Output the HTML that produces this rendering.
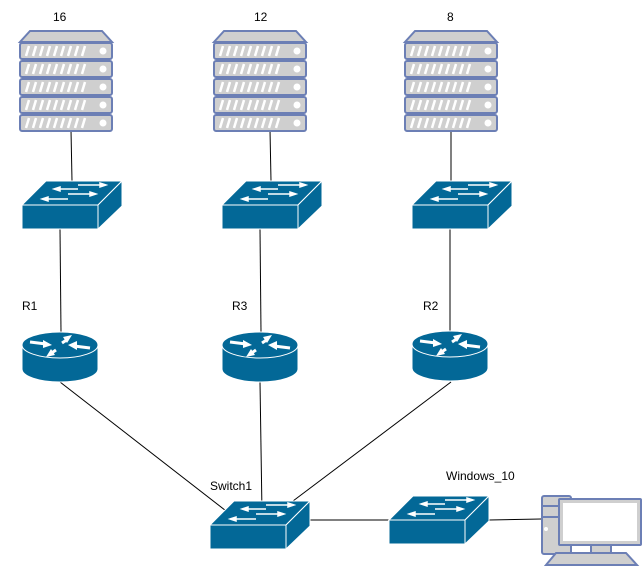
<!DOCTYPE html>
<html><head><meta charset="utf-8"><style>
html,body{margin:0;padding:0;background:#fff;}
svg{display:block;font-family:"Liberation Sans",sans-serif;font-size:12px;}
</style></head><body>
<svg width="643" height="567" viewBox="0 0 643 567" xmlns="http://www.w3.org/2000/svg">
<defs>
<g id="unit">
<rect x="0" y="0" width="92" height="16" rx="2" fill="#cfcfcf" stroke="#6c7fb5" stroke-width="2"/>
<g stroke="#fff" stroke-width="2.5">
<line x1="6" y1="13" x2="9" y2="3"/><line x1="13" y1="13" x2="16" y2="3"/><line x1="20" y1="13" x2="23" y2="3"/><line x1="27" y1="13" x2="30" y2="3"/><line x1="34" y1="13" x2="37" y2="3"/><line x1="41" y1="13" x2="44" y2="3"/><line x1="48" y1="13" x2="51" y2="3"/><line x1="55" y1="13" x2="58" y2="3"/><line x1="62" y1="13" x2="65" y2="3"/>
</g>
<circle cx="83" cy="8" r="3.5" fill="#fff"/>
</g>
<g id="server">
<path d="M10 1 L82 1 L92 12 L0 12 Z" fill="#cfcfcf" stroke="#6c7fb5" stroke-width="2"/>
<use href="#unit" y="13"/><use href="#unit" y="31"/><use href="#unit" y="49"/><use href="#unit" y="67"/><use href="#unit" y="85"/>
</g>
<g id="switch">
<path d="M0 24 L24 0 L100 0 L76 24 Z" fill="#036897" stroke="#fff" stroke-width="1"/>
<path d="M76 24 L100 0 L100 25 L76 48 Z" fill="#036897" stroke="#fff" stroke-width="1"/>
<rect x="0" y="24" width="76" height="24" fill="#036897" stroke="#fff" stroke-width="1"/>
<g stroke="#fff" stroke-width="1.5" fill="#fff">
<line x1="56" y1="4" x2="80" y2="4"/><path d="M84 4 L78 2 L78 6Z"/>
<line x1="36" y1="8" x2="56" y2="8"/><path d="M32 8 L38 6 L38 10Z"/>
<line x1="46" y1="13" x2="70" y2="13"/><path d="M74 13 L68 11 L68 15Z"/>
<line x1="24" y1="18" x2="46" y2="18"/><path d="M20 18 L26 16 L26 20Z"/>
</g>
</g>
<g id="router">
<path d="M0 13 L0 37 A38 13 0 0 0 76 37 L76 13 Z" fill="#036897" stroke="#fff"/>
<ellipse cx="38" cy="13" rx="38" ry="13" fill="#036897" stroke="#fff"/>
<g fill="#fff" stroke="#fff" stroke-width="3">
<line x1="8" y1="10" x2="24" y2="12"/><path d="M30 13 L21 8 L21 16Z" stroke-width="0"/>
<line x1="68" y1="16" x2="52" y2="14"/><path d="M46 13 L55 9 L55 18Z" stroke-width="0"/>
<line x1="46" y1="7" x2="40" y2="11"/><path d="M50 3 L41 5 L45 11Z" stroke-width="0"/>
<line x1="34" y1="18" x2="28" y2="22"/><path d="M24 25 L33 23 L29 17Z" stroke-width="0"/>
</g>
</g>
</defs>
<g stroke="#000" stroke-width="1" fill="none">
<line x1="71" y1="130" x2="72" y2="181"/><line x1="270" y1="130" x2="271" y2="181"/><line x1="451" y1="130" x2="451" y2="181"/>
<line x1="60" y1="229" x2="61" y2="332"/><line x1="260" y1="229" x2="261" y2="332"/><line x1="450" y1="229" x2="450" y2="331"/>
<line x1="60" y1="382" x2="230" y2="514"/><line x1="260" y1="382" x2="262" y2="513"/><line x1="451" y1="382" x2="293" y2="501"/>
<line x1="310" y1="520" x2="389" y2="520"/><line x1="489" y1="520" x2="541" y2="519"/>
</g>
<use href="#server" x="20" y="30"/><use href="#server" x="214" y="30"/><use href="#server" x="405" y="30"/>
<use href="#switch" x="22" y="181"/><use href="#switch" x="222" y="181"/><use href="#switch" x="412" y="181"/>
<use href="#router" x="22" y="332"/><use href="#router" x="222" y="332"/><use href="#router" x="412" y="331"/>
<use href="#switch" x="210" y="501"/><use href="#switch" x="389" y="496"/>
<g fill="#cfcfcf" stroke="#6c7fb5" stroke-width="2">
<rect x="542" y="496" width="29" height="58" rx="2"/>
<line x1="542" y1="506" x2="571" y2="506"/><line x1="542" y1="517" x2="571" y2="517"/>
<rect x="591" y="544" width="20" height="9"/>
<path d="M546 565 L556 553 L626 553 L637 565 Z"/>
<rect x="559" y="499" width="82" height="46" rx="1"/>
</g>
<rect x="563" y="503" width="74" height="38" fill="#fff"/>
<circle cx="546" cy="529" r="2" fill="#fff"/>
<g fill="#000">
<text x="53" y="21">16</text><text x="254" y="21">12</text><text x="447" y="21">8</text>
<text x="22" y="310">R1</text><text x="232" y="310">R3</text><text x="423" y="310">R2</text>
<text x="210" y="490">Switch1</text><text x="446" y="480">Windows_10</text>
</g>
</svg>
</body></html>
